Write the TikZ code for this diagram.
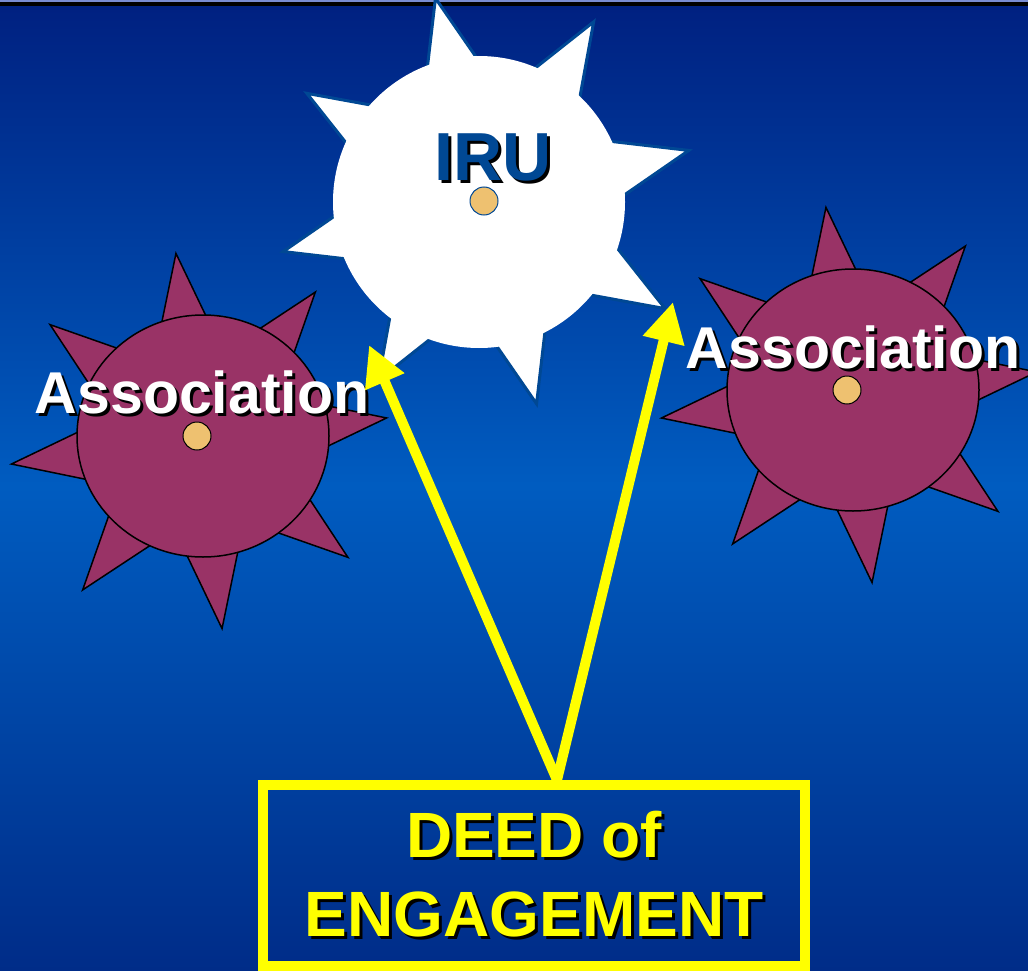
\documentclass[tikz,border=0pt]{standalone}
\usepackage{fontspec}
\setmainfont{Liberation Sans}
\usetikzlibrary{positioning,calc,arrows.meta,shapes.geometric}

\definecolor{navytop}{RGB}{0,32,128}
\definecolor{bluemid}{RGB}{0,92,192}
\definecolor{navybot}{RGB}{0,44,136}
\definecolor{rimlight}{RGB}{120,140,210}
\definecolor{irublue}{RGB}{0,72,148}
\definecolor{assocred}{RGB}{153,51,102}
\definecolor{seedorange}{RGB}{238,193,112}
\definecolor{deedyellow}{RGB}{255,255,0}

\newcommand{\shadowed}[1]{\leavevmode\rlap{\kern3pt\raisebox{-3pt}{\color{black}#1}}#1}

\tikzset{
  spike/.style={fill=assocred,draw=black,line width=1.5pt},
  core/.style={ellipse,fill=assocred,draw=black,line width=1.5pt,minimum width=252pt,minimum height=242pt,inner sep=0pt},
  iruspike/.style={fill=white,draw=irublue,line width=3pt},
  irucore/.style={circle,fill=white,minimum size=292pt,inner sep=0pt},
  seed/.style={circle,fill=seedorange,draw=black,line width=1pt,minimum size=28pt,inner sep=0pt},
  lbl/.style={anchor=base,inner sep=0pt,text=white,font=\bfseries\fontsize{59}{59}\selectfont},
  deedbox/.style={draw=deedyellow,line width=10pt,minimum width=542pt,minimum height=181pt,
    inner sep=0pt,align=center,text=deedyellow,font=\bfseries\fontsize{64}{79}\selectfont},
  pointer/.style={draw=deedyellow,line width=10pt,-{Triangle[length=40pt,width=40pt]}},
}

\begin{document}
\begin{tikzpicture}[x=1pt,y=-1pt]
  % backdrop
  \shade[top color=navytop,bottom color=navybot,middle color=bluemid] (0,0) rectangle (1028,971);
  \fill[rimlight] (0,0) rectangle (1028,2.5);
  \fill[black] (0,2.5) rectangle (1028,6);
  \useasboundingbox (0,0) rectangle (1028,971);

  % IRU
  \coordinate (iruC) at (486,201);
  \foreach \a in {14,59,...,329}
    \filldraw[iruspike] ($(iruC)+(\a-13:133pt)$) -- ($(iruC)+(\a:209pt)$) -- ($(iruC)+(\a+13:133pt)$) -- cycle;
  \node[irucore] (iru) at (479,202) {};
  \node[seed,draw=irublue] (iruseed) at (484,201) {};
  \node[lbl,text=irublue,font=\bfseries\fontsize{68}{68}\selectfont] (irutxt) at (493,180) {\shadowed{IRU}};

  % associations
  \foreach \n/\x/\y in {assocL/197/436, assocR/847/390} {
    \foreach \a in {7,52,...,322}
      \filldraw[spike] ($(\x+2,\y+5)+(\a-15:109pt)$) -- ($(\x+2,\y+5)+(\a:189pt)$) -- ($(\x+2,\y+5)+(\a+15:109pt)$) -- cycle;
    \node[core] (\n) at (\x+6,\y) {};
    \node[seed] (\n seed) at (\x,\y) {};
  }
  \node[lbl] (lblL) at (202,413) {\shadowed{Association}};
  \node[lbl] (lblR) at (853,368) {\shadowed{Association}};

  % deed
  \node[deedbox] (deed) at (534,875.5) {\shadowed{DEED of}\\\shadowed{ENGAGEMENT}};

  \coordinate (src) at ([xshift=23pt]deed.north);
  \coordinate (tipL) at (369,345);
  \coordinate (tipR) at (673,302);
  \draw[pointer] (src) -- (tipL);
  \draw[pointer] (src) -- (tipR);
\end{tikzpicture}
\end{document}
